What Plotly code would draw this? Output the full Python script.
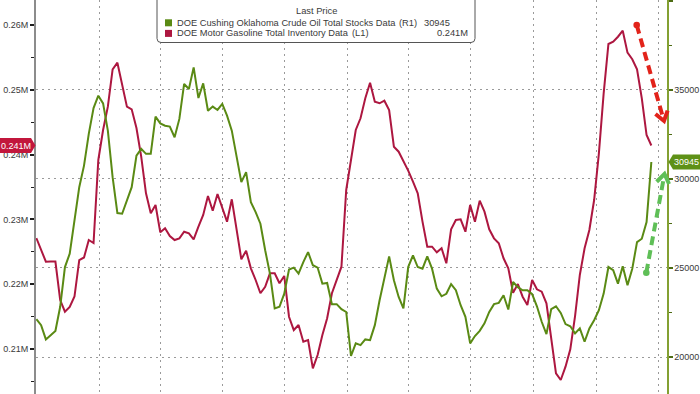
import math
import pandas as pd
import plotly.graph_objects as go

# ---------------- data (weekly, thousand barrels) ----------------
first_week = "2021-10-01"

cushing_kbbl = [
    22130, 21790, 20990, 21230, 21470, 22820, 25050, 25800, 27670, 29530,
    30740, 32520, 33970, 34660, 34230, 32700, 30090, 28080, 28040, 28790,
    29530, 31300, 31680, 31400, 31400, 33490, 33110, 32980, 32930, 32330,
    33360, 35320, 35040, 36250, 34530, 35350, 33820, 34050, 33860, 34200,
    33540, 32700, 31210, 29810, 30370, 28690, 28130, 27480, 25990, 24680,
    22730, 22820, 23560, 24910, 25020, 24680, 25330, 25890, 25150, 25020,
    24120, 24160, 22970, 22970, 22690, 22530, 20060, 20770, 20670, 20990,
    20950, 21790, 23190, 24400, 25650, 24310, 23370, 22730, 25050, 25710,
    25050, 24960, 25650, 24960, 23840, 23410, 23550, 24090, 23750, 22910,
    22260, 20770, 21180, 21470, 21890, 22530, 22970, 23040, 23470, 22670,
    24210, 23920, 23750, 23750, 23530, 22850, 21980, 21290, 22690, 22850,
    22480, 21850, 21730, 21330, 21610, 20860, 21610, 22070, 22630, 23560,
    25050, 24870, 24120, 25090, 24030, 24960, 26450, 26640, 27570, 30945,
]

gasoline_kbbl = [
    227130, 225430, 223470, 223500, 223500, 217560, 215760, 216480, 218100, 223730,
    224120, 226820, 226360, 239170, 243800, 247390, 253160, 254180, 250740, 247390,
    246990, 244100, 239680, 234030, 230940, 232220, 228010, 228630, 227440, 226820,
    227080, 228100, 227850, 226930, 228870, 230680, 233610, 231340, 233920, 231710,
    229650, 233100, 228360, 223840, 225170, 222450, 220650, 218600, 219610, 221680,
    221680, 220140, 221270, 214980, 212930, 213700, 211130, 211390, 207020, 209070,
    212160, 214740, 218600, 220650, 222700, 234540, 239170, 243800, 245600, 248690,
    251100, 248160, 247920, 248320, 246880, 241220, 240450, 239060, 237520, 235820,
    234030, 229650, 225790, 225790, 224920, 225540, 223230, 228470, 229910, 230020,
    228100, 232220, 229650, 232890, 231190, 228470, 227080, 226310, 224000, 222450,
    218690, 220030, 218070, 216790, 220650, 219210, 218840, 217050, 211900, 206250,
    205220, 207270, 209950, 215090, 221420, 225540, 228360, 232990, 240200, 249460,
    257070, 257420, 258190, 259120, 255730, 254710, 253160, 248690, 243020, 241400,
]

gasoline_ticks = [210000, 220000, 230000, 240000, 250000, 260000]
gasoline_tick_labels = ["0.21M", "0.22M", "0.23M", "0.24M", "0.25M", "0.26M"]
cushing_ticks = [20000, 25000, 30000, 35000, 40000]

cushing_name = "DOE Cushing Oklahoma Crude Oil Total Stocks Data"
gasoline_name = "DOE Motor Gasoline Total Inventory Data"
cushing_last_label = "30945"
gasoline_last_label = "0.241M"

# ---------------- styling / layout helpers ----------------
W, H = 700, 394
L, R = 36, 667
GREEN = "#5a8a14"
RED = "#ad1740"
FONT = "Liberation Sans, Arial, sans-serif"
TXT = "#3a3a3a"

left_range = [203056, 263858]
right_range = [17929, 40030]


def fx(x):
    return (x - L) / (R - L)


def fy(y):
    return 1 - y / H


dates = pd.date_range(first_week, periods=len(cushing_kbbl), freq="7D")
x_start = dates[0] - pd.Timedelta(hours=12)
x_end = dates[0] + pd.Timedelta(days=926)

fig = go.Figure()
fig.add_trace(go.Scatter(x=dates, y=gasoline_kbbl, mode="lines", yaxis="y",
                         line=dict(color=RED, width=2), name=gasoline_name,
                         hoverinfo="skip"))
fig.add_trace(go.Scatter(x=dates, y=cushing_kbbl, mode="lines", yaxis="y2",
                         line=dict(color=GREEN, width=2), name=cushing_name,
                         hoverinfo="skip"))

shapes = []
annotations = []


def rounded_rect(x0, y0, x1, y1, r):
    return (f"M {fx(x0 + r)},{fy(y0)} L {fx(x1 - r)},{fy(y0)} "
            f"Q {fx(x1)},{fy(y0)} {fx(x1)},{fy(y0 + r)} L {fx(x1)},{fy(y1 - r)} "
            f"Q {fx(x1)},{fy(y1)} {fx(x1 - r)},{fy(y1)} L {fx(x0 + r)},{fy(y1)} "
            f"Q {fx(x0)},{fy(y1)} {fx(x0)},{fy(y1 - r)} L {fx(x0)},{fy(y0 + r)} "
            f"Q {fx(x0)},{fy(y0)} {fx(x0 + r)},{fy(y0)} Z")


# ---- legend box ----
shapes.append(dict(type="path", xref="paper", yref="paper",
                   path=rounded_rect(157, -8, 475, 42.5, 4),
                   fillcolor="white", line=dict(color="#555555", width=1), layer="above"))
for (yc, col) in [(22.8, GREEN), (33.4, RED)]:
    shapes.append(dict(type="rect", xref="paper", yref="paper",
                       x0=fx(165), x1=fx(172), y0=fy(yc - 3.5), y1=fy(yc + 3.5),
                       fillcolor=col, line=dict(width=0), layer="above"))


def txt(x, y, s, anchor="left", color=TXT, size=9.3):
    annotations.append(dict(xref="paper", yref="paper", x=fx(x), y=fy(y), text=s,
                            showarrow=False, xanchor=anchor, yanchor="middle",
                            font=dict(family=FONT, size=size, color=color)))


txt(316, 11.5, "Last Price", anchor="center")
txt(175, 22.8, cushing_name)
txt(397, 22.8, "(R1)")
txt(422, 22.8, cushing_last_label)
txt(175, 33.4, gasoline_name)
txt(350, 33.4, "(L1)")
txt(470, 33.4, gasoline_last_label, anchor="right")


# ---- last-value badges ----
def val_to_px(v, rng):
    return H * (1 - (v - rng[0]) / (rng[1] - rng[0]))


gy = val_to_px(gasoline_kbbl[-1], left_range)
cy = val_to_px(cushing_kbbl[-1], right_range)

badge_l = [(0, gy - 7.5), (31, gy - 7.5), (35.5, gy), (31, gy + 7.5), (0, gy + 7.5)]
badge_r = [(668.5, cy), (673, cy - 7.5), (700, cy - 7.5), (700, cy + 7.5), (673, cy + 7.5)]
for pts, col in [(badge_l, "#c2163c"), (badge_r, "#5e9117")]:
    p = "M " + " L ".join(f"{fx(a)},{fy(b)}" for a, b in pts) + " Z"
    shapes.append(dict(type="path", xref="paper", yref="paper", path=p,
                       fillcolor=col, line=dict(width=0), layer="above"))
txt(16, gy, gasoline_last_label, anchor="center", color="white", size=9)
txt(686, cy, cushing_last_label, anchor="center", color="white", size=9)


# ---- dashed trend arrows ----
def arrow(start, tip, color):
    sx, sy = start
    tx, ty = tip
    dx, dy = tx - sx, ty - sy
    n = math.hypot(dx, dy)
    ux, uy = dx / n, dy / n
    ex, ey = tx - 4 * ux, ty - 4 * uy
    shapes.append(dict(type="line", xref="paper", yref="paper",
                       x0=fx(sx), y0=fy(sy), x1=fx(ex), y1=fy(ey),
                       line=dict(color=color, width=4, dash="9px,5px"), layer="above"))
    r = 3.3
    shapes.append(dict(type="circle", xref="paper", yref="paper",
                       x0=fx(sx - r), x1=fx(sx + r), y0=fy(sy - r), y1=fy(sy + r),
                       fillcolor=color, line=dict(width=0), layer="above"))
    ang = math.radians(35)
    hl = 11
    arms = []
    for s in (1, -1):
        c, si = math.cos(s * ang), math.sin(s * ang)
        bx, by = -ux, -uy
        rx, ry = bx * c - by * si, bx * si + by * c
        arms.append((tx + hl * rx, ty + hl * ry))
    p = (f"M {fx(arms[0][0])},{fy(arms[0][1])} L {fx(tx)},{fy(ty)} "
         f"L {fx(arms[1][0])},{fy(arms[1][1])}")
    shapes.append(dict(type="path", xref="paper", yref="paper", path=p,
                       line=dict(color=color, width=4), layer="above"))


arrow((636.7, 25), (664, 121), "#e2231a")
arrow((646.3, 272.7), (664.5, 174), "#5fbf57")

grid = dict(gridcolor="#9a9a9a", griddash="2px,4px", gridwidth=1)

fig.update_layout(
    width=W, height=H,
    margin=dict(l=L, r=W - R, t=0, b=0),
    paper_bgcolor="white", plot_bgcolor="white",
    showlegend=False,
    font=dict(family=FONT, size=9, color=TXT),
    xaxis=dict(type="date", range=[x_start, x_end], showticklabels=False,
               showgrid=True, dtick="M3", tick0="2000-01-01", ticks="",
               showline=False, zeroline=False, **grid),
    yaxis=dict(range=left_range, tickmode="array", tickvals=gasoline_ticks,
               ticktext=gasoline_tick_labels, ticks="outside", ticklen=4,
               tickwidth=2, tickcolor="#1e1e1e", showline=True,
               linecolor="#8c8c8c", linewidth=2, showgrid=False, zeroline=False,
               automargin=False,
               tickfont=dict(family=FONT, size=9, color=TXT),
               minor=dict(tickmode="linear", tick0=0, dtick=5000, ticks="outside",
                          ticklen=3, tickwidth=1, tickcolor="#1e1e1e")),
    yaxis2=dict(range=right_range, overlaying="y", side="right",
                tickmode="array", tickvals=cushing_ticks, tickformat="d",
                ticks="outside", ticklen=4, tickwidth=2, tickcolor="#4d6b14",
                showline=True, linecolor="#83a032", linewidth=1.5,
                showgrid=True, zeroline=False, automargin=False,
                tickfont=dict(family=FONT, size=9, color=TXT),
                minor=dict(tickmode="linear", tick0=0, dtick=2500, ticks="outside",
                           ticklen=3, tickwidth=1, tickcolor="#4d6b14"),
                **grid),
    shapes=shapes,
    annotations=annotations,
)

fig.write_html("out.html",
               config={"displayModeBar": False, "staticPlot": True},
               post_script="document.body.style.margin='0px';"
                           "document.body.style.overflow='hidden';")
